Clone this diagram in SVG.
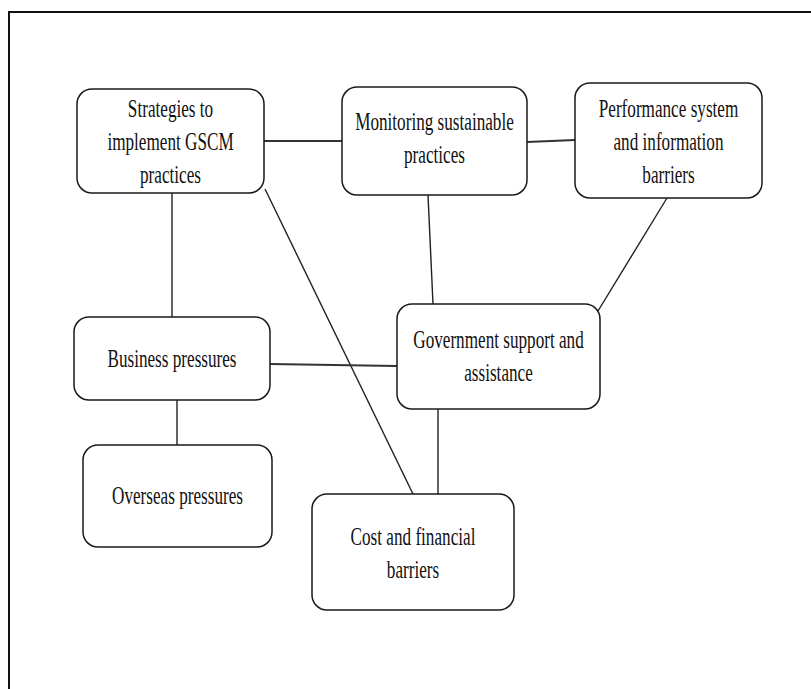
<svg xmlns="http://www.w3.org/2000/svg" width="811" height="689" viewBox="0 0 811 689">
<style>
.box{fill:#fff;stroke:#1a1a1a;stroke-width:1.5}
.lbl{font-family:"Liberation Serif","Times New Roman",serif;font-size:26px;fill:#111;text-anchor:middle}
.c{stroke:#222;stroke-width:1.4;fill:none}
.c2{stroke:#333;stroke-width:2;fill:none}
</style>
<rect width="811" height="689" fill="#fff"/>
<path d="M9,689 V12 H811" fill="none" stroke="#111" stroke-width="2"/>
<g id="connectors">
<line class="c2" x1="264" y1="141" x2="342" y2="141"/>
<line class="c2" x1="527" y1="142" x2="575" y2="140"/>
<line class="c" x1="172" y1="193" x2="172" y2="317"/>
<line class="c" x1="265" y1="189" x2="413" y2="494"/>
<line class="c2" x1="270" y1="364" x2="397" y2="366"/>
<line class="c" x1="177" y1="400" x2="177" y2="445"/>
<line class="c" x1="438" y1="409" x2="438" y2="494"/>
<line class="c" x1="428" y1="195" x2="433" y2="304"/>
<line class="c" x1="667" y1="198" x2="598" y2="311"/>
</g>
<g id="strategies">
<rect class="box" x="77" y="89" width="187" height="104" rx="15"/>
<text class="lbl" transform="translate(170.5,117) scale(0.66,1)">Strategies to</text>
<text class="lbl" transform="translate(170.5,150) scale(0.66,1)">implement GSCM</text>
<text class="lbl" transform="translate(170.5,183) scale(0.66,1)">practices</text>
</g>
<g id="monitoring">
<rect class="box" x="342" y="87" width="185" height="108" rx="15"/>
<text class="lbl" transform="translate(434.5,130) scale(0.66,1)">Monitoring sustainable</text>
<text class="lbl" transform="translate(434.5,163) scale(0.66,1)">practices</text>
</g>
<g id="performance">
<rect class="box" x="575" y="83" width="187" height="115" rx="15"/>
<text class="lbl" transform="translate(668.5,117) scale(0.66,1)">Performance system</text>
<text class="lbl" transform="translate(668.5,150) scale(0.66,1)">and information</text>
<text class="lbl" transform="translate(668.5,183) scale(0.66,1)">barriers</text>
</g>
<g id="business">
<rect class="box" x="74" y="317" width="196" height="83" rx="15"/>
<text class="lbl" transform="translate(172,367) scale(0.66,1)">Business pressures</text>
</g>
<g id="government">
<rect class="box" x="397" y="304" width="203" height="105" rx="15"/>
<text class="lbl" transform="translate(498.5,348) scale(0.66,1)">Government support and</text>
<text class="lbl" transform="translate(498.5,381) scale(0.66,1)">assistance</text>
</g>
<g id="overseas">
<rect class="box" x="83" y="445" width="189" height="102" rx="15"/>
<text class="lbl" transform="translate(177.5,504) scale(0.66,1)">Overseas pressures</text>
</g>
<g id="cost">
<rect class="box" x="312" y="494" width="202" height="116" rx="15"/>
<text class="lbl" transform="translate(413,545) scale(0.66,1)">Cost and financial</text>
<text class="lbl" transform="translate(413,578) scale(0.66,1)">barriers</text>
</g>
</svg>
